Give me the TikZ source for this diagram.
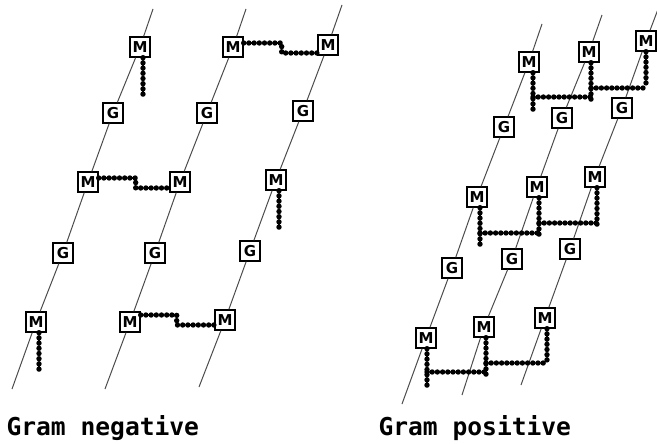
\documentclass[tikz,border=0pt]{standalone}
\usepackage{fontspec}
\usepackage{tikz}
\setsansfont{DejaVu Sans}
\newfontfamily\captionmono{DejaVu Sans Mono}

\begin{document}
\begin{tikzpicture}[
  x=1pt, y=-1pt,
  unit/.style={draw, line width=1.4pt, fill=white, minimum size=20pt, inner sep=0pt, font=\sffamily\bfseries\fontsize{15}{15}\selectfont},
  strand/.style={line width=1pt, color=black!70},
  beads/.style={line width=5.4pt, dash pattern=on 0pt off 5.2pt, line cap=round},
  caption/.style={anchor=base west, font=\captionmono\bfseries\fontsize{24.6}{26}\selectfont}
]
\useasboundingbox (0,0) rectangle (657,444);

% Gram negative: three strands
\coordinate (n1top) at (153,9);
\coordinate (n1bot) at (12,389);
\node[unit] (n1m1) at (140,47) {M};
\node[unit] (n1g1) at (113,113) {G};
\node[unit] (n1m2) at (88,182) {M};
\node[unit] (n1g2) at (63,253) {G};
\node[unit] (n1m3) at (36,322) {M};

\coordinate (n2top) at (246,9);
\coordinate (n2bot) at (105,389);
\node[unit] (n2m1) at (233,47) {M};
\node[unit] (n2g1) at (207,113) {G};
\node[unit] (n2m2) at (180,182) {M};
\node[unit] (n2g2) at (155,253) {G};
\node[unit] (n2m3) at (130,322) {M};

\coordinate (n3top) at (342,5);
\coordinate (n3bot) at (199,387);
\node[unit] (n3m1) at (328,45) {M};
\node[unit] (n3g1) at (303,111) {G};
\node[unit] (n3m2) at (276,180) {M};
\node[unit] (n3g2) at (250,251) {G};
\node[unit] (n3m3) at (225,320) {M};

\draw[strand] (n1top) -- (n1m1) -- (n1g1) -- (n1m2) -- (n1g2) -- (n1m3) -- (n1bot);
\draw[strand] (n2top) -- (n2m1) -- (n2g1) -- (n2m2) -- (n2g2) -- (n2m3) -- (n2bot);
\draw[strand] (n3top) -- (n3m1) -- (n3g1) -- (n3m2) -- (n3g2) -- (n3m3) -- (n3bot);

% peptide bridges
\coordinate (e11) at (143,96);
\coordinate (e32) at (279,228);
\coordinate (e13) at (39,372);
\draw[beads] (n1m1.south -| e11) -- (e11);
\draw[beads] (n3m2.south -| e32) -- (e32);
\draw[beads] (n1m3.south -| e13) -- (e13);
\draw[beads] ([yshift=4pt]n1m2.east) -- ++(37,0) -- ++(0,10) -- ([yshift=-6pt]n2m2.west);
\draw[beads] ([yshift=4pt]n2m1.east) -- ++(38,0) -- ++(0,10) -- ([yshift=-8pt]n3m1.west);
\draw[beads] ([yshift=7pt]n2m3.east) -- ++(36,0) -- ++(0,10) -- ([yshift=-5pt]n3m3.west);

% Gram positive: three strands
\coordinate (p1top) at (542,24);
\coordinate (p1bot) at (402,404);
\node[unit] (p1m1) at (529,62) {M};
\node[unit] (p1g1) at (504,127) {G};
\node[unit] (p1m2) at (477,197) {M};
\node[unit] (p1g2) at (452,268) {G};
\node[unit] (p1m3) at (426,338) {M};

\coordinate (p2top) at (602,15);
\coordinate (p2bot) at (462,395);
\node[unit] (p2m1) at (589,52) {M};
\node[unit] (p2g1) at (562,118) {G};
\node[unit] (p2m2) at (537,187) {M};
\node[unit] (p2g2) at (512,259) {G};
\node[unit] (p2m3) at (484,327) {M};

\coordinate (p3top) at (660,4);
\coordinate (p3bot) at (521,385);
\node[unit] (p3m1) at (646,41) {M};
\node[unit] (p3g1) at (622,108) {G};
\node[unit] (p3m2) at (595,177) {M};
\node[unit] (p3g2) at (570,249) {G};
\node[unit] (p3m3) at (545,318) {M};

\draw[strand] (p1top) -- (p1m1) -- (p1g1) -- (p1m2) -- (p1g2) -- (p1m3) -- (p1bot);
\draw[strand] (p2top) -- (p2m1) -- (p2g1) -- (p2m2) -- (p2g2) -- (p2m3) -- (p2bot);
\draw[strand] (p3top) -- (p3m1) -- (p3g1) -- (p3m2) -- (p3g2) -- (p3m3) -- (p3bot);

% cross-linked bridges, one row per level
\coordinate (a1) at (533,110);
\coordinate (b1) at (591,100);
\coordinate (c1) at (646,88);
\draw[beads] (p1m1.south -| a1) -- (a1);
\draw[beads] (p2m1.south -| b1) -- (b1);
\draw[beads] (p3m1.south -| c1) -- (c1);
\draw[beads] ([yshift=13pt]a1) -- ([yshift=3pt]b1);
\draw[beads] ([yshift=12pt]b1) -- (c1);

\coordinate (a2) at (480,245);
\coordinate (b2) at (539,235);
\coordinate (c2) at (597,227);
\draw[beads] (p1m2.south -| a2) -- (a2);
\draw[beads] (p2m2.south -| b2) -- (b2);
\draw[beads] (p3m2.south -| c2) -- (c2);
\draw[beads] ([yshift=12pt]a2) -- ([yshift=2pt]b2);
\draw[beads] ([yshift=12pt]b2) -- ([yshift=4pt]c2);

\coordinate (a3) at (427,387);
\coordinate (b3) at (486,375);
\coordinate (c3) at (547,365);
\draw[beads] (p1m3.south -| a3) -- (a3);
\draw[beads] (p2m3.south -| b3) -- (b3);
\draw[beads] (p3m3.south -| c3) -- (c3);
\draw[beads] ([yshift=15pt]a3) -- ([yshift=3pt]b3);
\draw[beads] ([yshift=12pt]b3) -- ([yshift=2pt]c3);

\node[caption] (neg) at (3,435) {Gram negative};
\node[caption] (pos) at (375,435) {Gram positive};
\end{tikzpicture}
\end{document}
